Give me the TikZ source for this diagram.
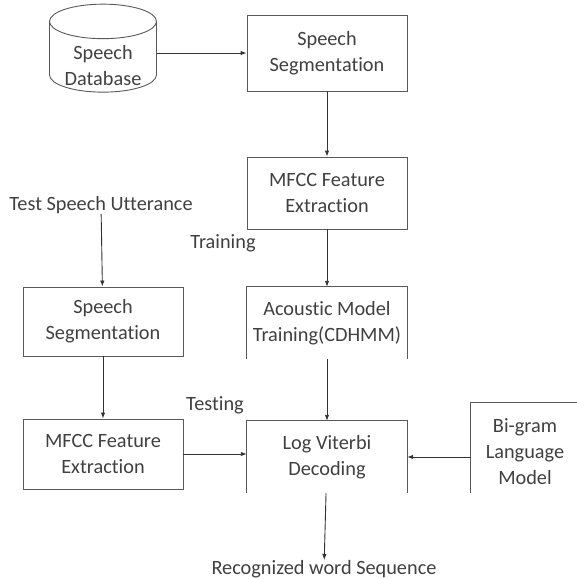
\documentclass[tikz,border=0pt]{standalone}
\usepackage{fontspec}
\setmainfont{Carlito}[Ligatures=NoCommon]
\usetikzlibrary{arrows.meta}
\usetikzlibrary{shapes.geometric}

\begin{document}
\begin{tikzpicture}[
    x=1pt, y=-1pt,
    >={Latex[length=6pt,width=4.5pt]},
    every node/.style={font=\fontsize{20.3}{26}\selectfont, text=black!75, align=center, inner sep=0pt},
    block/.style={draw=black!65, line width=0.9pt, minimum width=160pt, minimum height=72pt},
    openblock/.style={minimum width=160pt, minimum height=72pt},
    border/.style={draw=black!65, line width=0.9pt},
    flow/.style={->, line width=0.9pt, black!80}
]
    \useasboundingbox (0,0) rectangle (577,579);

    % Nodes
    \node[border, cylinder, shape border rotate=90, aspect=0.45,
          minimum width=107pt, minimum height=88pt] (db) at (103,57)
          {\raisebox{-15pt}[0pt][0pt]{\begin{tabular}{@{}c@{}}Speech\\Database\end{tabular}}};
    \node[block, minimum height=76pt] (seg) at (327,53) {Speech\\Segmentation};
    \node[block] (mfcc) at (327,193) {MFCC Feature\\Extraction};
    \node (train) at (223,243) {Training};
    \node[openblock] (ac) at (327,323) {Acoustic Model\\Training(CDHMM)};
    \node (test) at (101,205) {Test Speech Utterance};
    \node[block, minimum height=69pt] (lseg) at (103,321.5) {Speech\\Segmentation};
    \node[block, minimum height=70pt] (lmfcc) at (103,454) {MFCC Feature\\Extraction};
    \node (testing) at (215,405) {Testing};
    \node[openblock] (lv) at (327,457) {Log Viterbi\\Decoding};
    \node[openblock, minimum width=108pt, minimum height=98pt] (bg) at (525,452) {Bi-gram\\Language\\Model};
    \node (rec) at (324,569) {Recognized word Sequence};

    % Open boxes
    \draw[border] (ac.south west) -- (ac.north west) -- (ac.north east) -- (ac.south east);
    \draw[border] (lv.south west) -- (lv.north west) -- (lv.north east) -- (lv.south east);
    \draw[border] (bg.west |- lv.south) -- (bg.north west) -- (bg.north east);

    % Edges
    \draw[flow] (db.east |- seg.west) -- (seg.west);
    \draw[flow] (seg) -- (mfcc);
    \draw[flow] (mfcc) -- (ac);
    \draw[flow] (ac) -- (lv);
    \draw[flow] (test) -- (lseg);
    \draw[flow] (lseg) -- (lmfcc);
    \draw[flow] (lmfcc.east) -- (lmfcc.east -| lv.west);
    \draw[flow] (bg.west |- lv.east) -- (lv.east);
    \draw[flow] (lv) -- (rec);
\end{tikzpicture}
\end{document}
